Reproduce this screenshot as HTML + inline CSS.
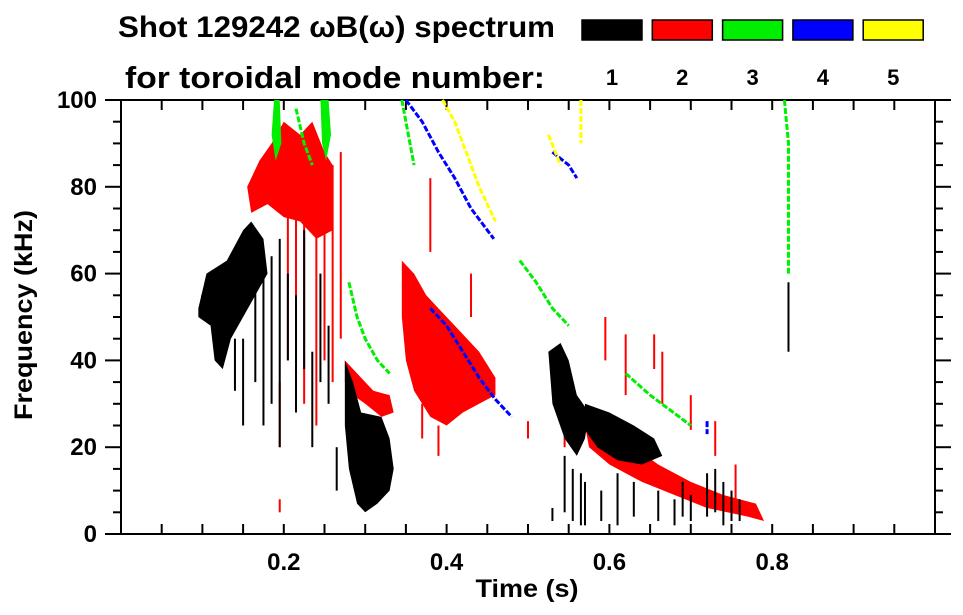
<!DOCTYPE html>
<html><head><meta charset="utf-8"><style>
body{margin:0;background:#fff;}
svg{display:block;font-family:"Liberation Sans",sans-serif;font-weight:bold;}
</style></head><body>
<svg id="chart" width="963" height="615">
<text x="118" y="37" font-size="30" textLength="437" lengthAdjust="spacingAndGlyphs">Shot 129242 ωB(ω) spectrum</text>
<text x="125" y="88" font-size="31" textLength="420" lengthAdjust="spacingAndGlyphs">for toroidal mode number:</text>
<g id="legend"></g>
<g id="axes"></g>
<g id="marks"></g>
<text transform="translate(32,315) rotate(-90)" text-anchor="middle" font-size="25" textLength="210" lengthAdjust="spacingAndGlyphs">Frequency (kHz)</text>
<text x="527" y="597" text-anchor="middle" font-size="25" textLength="103" lengthAdjust="spacingAndGlyphs">Time (s)</text>
</svg>
<script>
const modeNames=['1','2','3','4','5'];
const modeColors=['#000000','#ff0000','#00ee00','#0000ff','#ffff00'];
const xTickLabels=[0.2,0.4,0.6,0.8];
const yTickLabels=[0,20,40,60,80,100];
const blobs1=[
[[0.095,52],[0.105,60],[0.13,63],[0.15,70],[0.16,72],[0.175,68],[0.18,60],[0.165,55],[0.15,50],[0.135,45],[0.125,38],[0.115,40],[0.11,48],[0.095,50]],
[[0.275,40],[0.285,35],[0.295,28],[0.32,27],[0.33,22],[0.335,15],[0.33,10],[0.315,7],[0.30,5],[0.29,7],[0.28,15],[0.275,25]],
[[0.525,42],[0.54,44],[0.55,40],[0.56,32],[0.575,28],[0.57,22],[0.56,18],[0.545,22],[0.53,30]],
[[0.57,30],[0.60,28],[0.63,25],[0.655,22],[0.665,18],[0.64,16],[0.61,17],[0.585,20],[0.57,24]]];
const streaks1=[[0.165,35,65],[0.175,25,62],[0.185,30,64],[0.195,20,68],[0.205,40,60],[0.215,28,55],[0.225,38,70],[0.235,20,42],[0.245,35,60],[0.255,30,48],[0.15,25,45],[0.14,33,45],[0.53,3,6],[0.57,2,12],[0.59,3,10],[0.61,2,14],[0.63,4,12],[0.66,3,10],[0.68,2,8],[0.70,3,9],[0.72,4,14],[0.74,2,12],[0.76,3,8],[0.82,42,58],[0.265,10,20],[0.545,5,18],[0.555,3,15],[0.565,2,14],[0.69,4,12],[0.73,5,15],[0.75,3,10]];
const blobs2=[
[[0.155,80],[0.17,86],[0.185,90],[0.20,95],[0.22,92],[0.235,95],[0.25,88],[0.26,85],[0.26,70],[0.24,68],[0.22,72],[0.20,73],[0.18,76],[0.16,74]],
[[0.275,40],[0.29,37],[0.31,33],[0.33,32],[0.335,28],[0.32,27],[0.30,30],[0.285,32],[0.275,35]],
[[0.345,63],[0.36,60],[0.375,55],[0.39,52],[0.41,48],[0.44,42],[0.46,36],[0.46,32],[0.44,30],[0.42,28],[0.40,25],[0.38,27],[0.36,33],[0.35,40],[0.345,50]],
[[0.57,25],[0.60,22],[0.63,20],[0.66,16],[0.70,12],[0.74,9],[0.78,7],[0.79,3],[0.77,4],[0.72,6],[0.68,9],[0.64,12],[0.60,16],[0.575,20]]];
const streaks2=[[0.205,40,85],[0.215,35,80],[0.225,30,78],[0.24,25,90],[0.25,40,85],[0.26,35,85],[0.27,45,88],[0.195,20,35],[0.38,65,82],[0.43,50,60],[0.50,22,26],[0.545,20,25],[0.595,40,50],[0.62,32,46],[0.655,38,46],[0.665,30,42],[0.70,24,32],[0.73,18,26],[0.195,5,8],[0.755,8,16],[0.37,22,30],[0.39,18,25]];
const blobs3=[[[0.185,92],[0.188,100],[0.195,100],[0.197,90],[0.19,86]],[[0.245,100],[0.255,100],[0.258,92],[0.252,86],[0.247,90]]];
const lines3=[[[0.28,58],[0.29,50],[0.30,45],[0.315,40],[0.33,37]],[[0.345,100],[0.355,90],[0.36,85]],[[0.49,63],[0.51,58],[0.53,52],[0.55,48]],[[0.62,37],[0.65,32],[0.70,25]],[[0.815,100],[0.82,90],[0.82,70],[0.82,60]],[[0.215,98],[0.225,90],[0.235,85]]];
const lines4=[[[0.35,100],[0.37,95],[0.39,88],[0.41,82],[0.43,75],[0.45,70],[0.458,68]],[[0.38,52],[0.40,48],[0.42,42],[0.44,36],[0.46,31],[0.48,27]],[[0.10,55],[0.105,50]],[[0.53,88],[0.55,85],[0.56,82]],[[0.72,26],[0.72,23]]];
const lines5=[[[0.395,100],[0.41,95],[0.42,90],[0.44,80],[0.46,72]],[[0.525,92],[0.54,85]],[[0.565,100],[0.565,90]]];

const X0=121,X1=935,Y0=534,Y1=100;
const xs=t=>X0+(X1-X0)*t;
const ys=f=>Y0-(Y0-Y1)*f/100;
const NS='http://www.w3.org/2000/svg';
function mk(tag,parent){const e=document.createElementNS(NS,tag);parent.appendChild(e);return e;}
const marks=document.getElementById('marks'),axes=document.getElementById('axes'),legend=document.getElementById('legend');

modeNames.forEach((m,i)=>{
  const r=mk('rect',legend);
  r.setAttribute('x',582+i*70.3);r.setAttribute('y',20);r.setAttribute('width',60);r.setAttribute('height',20);
  r.setAttribute('fill',modeColors[i]);r.setAttribute('stroke','#000');r.setAttribute('stroke-width',1.5);
  
  
  const t=mk('text',legend);
  t.setAttribute('x',612+i*70.3);t.setAttribute('y',85);t.setAttribute('text-anchor','middle');t.setAttribute('font-size',22);
  t.textContent=m;
  
  
});

function drawBlobs(arr,color,mode){
  arr.forEach((b,k)=>{
    const p=mk('polygon',marks);
    p.setAttribute('points',b.map(q=>xs(q[0])+','+ys(q[1])).join(' '));
    p.setAttribute('fill',color);
    
    
  });
}
function drawStreaks(arr,color,mode){
  arr.forEach((s,k)=>{
    const l=mk('rect',marks);
    l.setAttribute('x',xs(s[0])-1);l.setAttribute('y',ys(s[2]));l.setAttribute('width',2);l.setAttribute('height',ys(s[1])-ys(s[2]));
    l.setAttribute('fill',color);
    
    
  });
}
function drawLines(arr,color,mode){
  arr.forEach((ln,k)=>{
    const p=mk('polyline',marks);
    p.setAttribute('points',ln.map(q=>xs(q[0])+','+ys(q[1])).join(' '));
    p.setAttribute('fill','none');p.setAttribute('stroke',color);p.setAttribute('stroke-width',3);
    p.setAttribute('stroke-dasharray','6 2');
    
    
  });
}
drawBlobs(blobs2,modeColors[1],2);drawStreaks(streaks2,modeColors[1],2);
drawBlobs(blobs3,modeColors[2],3);drawLines(lines3,modeColors[2],3);
drawLines(lines4,modeColors[3],4);drawLines(lines5,modeColors[4],5);
drawBlobs(blobs1,modeColors[0],1);drawStreaks(streaks1,modeColors[0],1);

const fr=mk('rect',axes);
fr.setAttribute('x',X0);fr.setAttribute('y',Y1);fr.setAttribute('width',X1-X0);fr.setAttribute('height',Y0-Y1);
fr.setAttribute('fill','none');fr.setAttribute('stroke','#000');fr.setAttribute('stroke-width',2);


function line(x1,y1,x2,y2,name){const l=mk('line',axes);l.setAttribute('x1',x1);l.setAttribute('y1',y1);l.setAttribute('x2',x2);l.setAttribute('y2',y2);l.setAttribute('stroke','#000');l.setAttribute('stroke-width',2);

}
line(105,Y1,951,Y1,'top-rule');line(105,Y0,951,Y0,'bottom-rule');
for(let i=1;i<20;i++){const x=xs(i*0.05);line(x,Y0,x,Y0-10,'x-tick');line(x,Y1,x,Y1+10,'x-tick-top');}
for(let i=1;i<20;i++){const y=ys(i*5);const L=(i%4==0)?16:8;line(X0-L,y,X0,y,'y-tick');line(X1,y,X1+L,y,'y-tick-right');}
xTickLabels.forEach(v=>{const t=mk('text',axes);t.setAttribute('x',xs(v));t.setAttribute('y',570);t.setAttribute('text-anchor','middle');t.setAttribute('font-size',24);t.textContent=v.toFixed(1);

});
yTickLabels.forEach(v=>{const t=mk('text',axes);t.setAttribute('x',97);t.setAttribute('y',ys(v)+8);t.setAttribute('text-anchor','end');t.setAttribute('font-size',24);t.textContent=v;

});
</script>
</body></html>
